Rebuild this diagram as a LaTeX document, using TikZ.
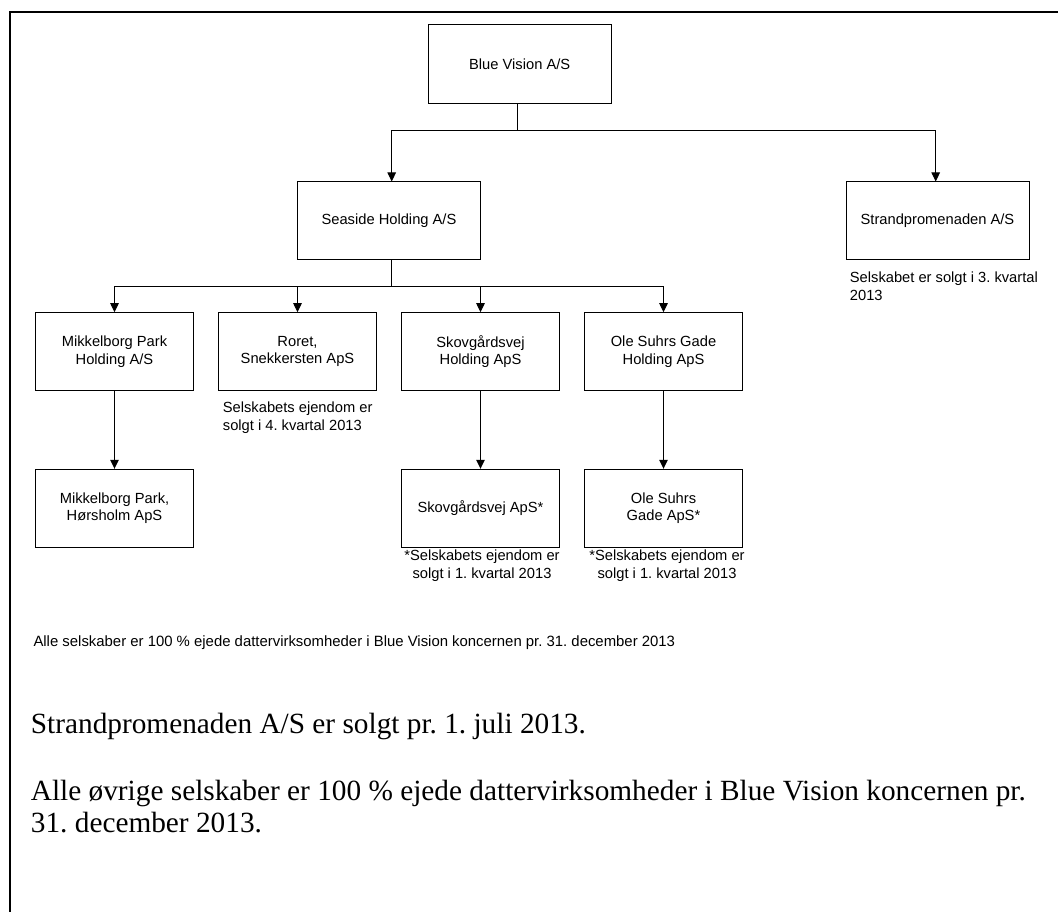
\documentclass[tikz,border=0pt]{standalone}
\usepackage{fontspec}
\setmainfont{Liberation Serif}
\newfontfamily\arialf{Liberation Sans}
\usetikzlibrary{arrows.meta}
\newcommand\boxfont{\arialf\fontsize{14.7}{17.4}\selectfont}
\newcommand\notefont{\arialf\fontsize{14.7}{18}\selectfont}
\newcommand\footfont{\arialf\fontsize{14.9}{18}\selectfont}
\newcommand\bigfont{\fontsize{29.3}{31.7}\selectfont}
\frenchspacing
\begin{document}
\begin{tikzpicture}[x=1pt,y=-1pt,
  orgbox/.style={draw=black, line width=1pt, inner sep=0pt, align=center, font=\boxfont, minimum width=157.5pt, minimum height=78pt},
  widebox/.style={orgbox, minimum width=183pt},
  conn/.style={draw=black, line width=1pt},
  arr/.style={conn, -{Triangle[length=9pt,width=8.5pt]}},
  note/.style={inner sep=0pt, font=\notefont}]
\useasboundingbox (0,0) rectangle (1058,912);
\draw[line width=2pt] (9.5,920) -- (9.5,12.5) -- (1065,12.5);
% boxes
\node[widebox, minimum height=79pt] (bv) at (519.7,64.5) {Blue Vision A/S};
\node[widebox] (sea) at (389,221) {Seaside Holding A/S};
\node[widebox] (strand) at (937.5,221) {Strandpromenaden A/S};
\node[orgbox] (mph) at (114.5,351.7) {Mikkelborg Park\\Holding A/S};
\node[orgbox] (ror) at (297.5,351.7) {Roret,\\Snekkersten ApS};
\node[orgbox] (skh) at (480.5,351.7) {Skovgårdsvej\\Holding ApS};
\node[orgbox] (osh) at (663.5,351.7) {Ole Suhrs Gade\\Holding ApS};
\node[orgbox] (mpa) at (114.5,508.3) {Mikkelborg Park,\\Hørsholm ApS};
\node[orgbox] (ska) at (480.5,508.3) {Skovgårdsvej ApS*};
\node[orgbox] (osa) at (663.5,508.3) {Ole Suhrs\\Gade ApS*};
% connectors
\draw[conn] ([xshift=-2.7pt]bv.south) -- ++(0,26) coordinate (bus1);
\draw[arr] (bus1) -| ([xshift=2.7pt]sea.north);
\draw[arr] (bus1) -| ([xshift=-1.8pt]strand.north);
\draw[conn] ([xshift=2.7pt]sea.south) -- ++(0,26) coordinate (bus2);
\draw[arr] (bus2) -| (mph.north);
\draw[arr] (bus2) -| (ror.north);
\draw[arr] (bus2) -| (skh.north);
\draw[arr] (bus2) -| (osh.north);
\draw[arr] (mph.south) -- (mpa.north);
\draw[arr] (skh.south) -- (ska.north);
\draw[arr] (osh.south) -- (osa.north);
% notes
\node[note, anchor=north west, align=left] (strnote) at (849.7,272) {Selskabet er solgt i 3. kvartal\\2013};
\node[note, anchor=north west, align=left] (rornote) at (222.7,402) {Selskabets ejendom er\\solgt i 4. kvartal 2013};
\node[note, anchor=north, align=center] (sknote) at (482,549.5) {*Selskabets ejendom er\\solgt i 1. kvartal 2013};
\node[note, anchor=north, align=center] (osnote) at (667,549.5) {*Selskabets ejendom er\\solgt i 1. kvartal 2013};
\node[inner sep=0pt, anchor=base west, font=\footfont] (foot) at (33.3,646.5) {Alle selskaber er 100 \% ejede dattervirksomheder i Blue Vision koncernen pr. 31. december 2013};
\node[inner sep=0pt, anchor=base west, font=\bigfont] (big1) at (30.7,733.3) {Strandpromenaden A/S er solgt pr. 1. juli 2013.};
\node[inner sep=0pt, anchor=north west, font=\bigfont, align=left] (big2) at (30.7,780) {Alle øvrige selskaber er 100 \% ejede dattervirksomheder i Blue Vision koncernen pr.\\31. december 2013.};
\end{tikzpicture}
\end{document}
